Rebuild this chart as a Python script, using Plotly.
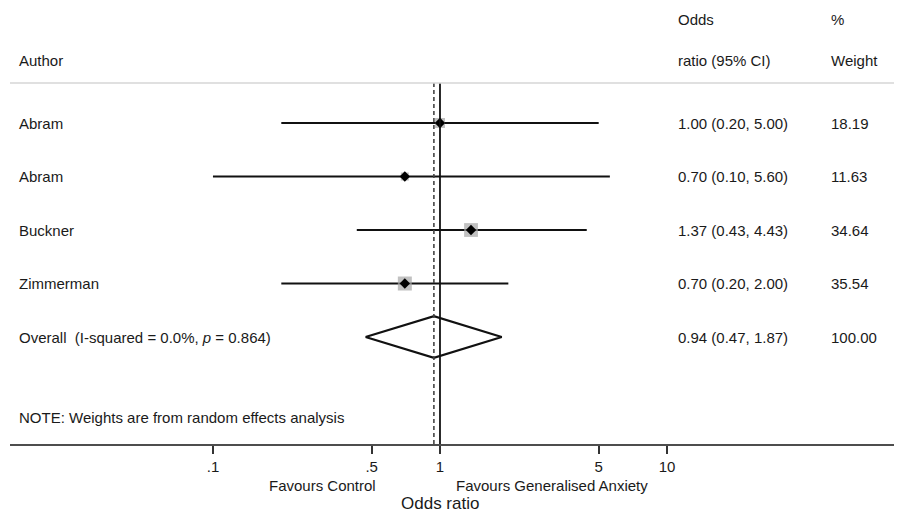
import math
import plotly.graph_objects as go

# ---- data ----
authors = ["Abram", "Abram", "Buckner", "Zimmerman"]
odds = [1.00, 0.70, 1.37, 0.70]
ci_low = [0.20, 0.10, 0.43, 0.20]
ci_high = [5.00, 5.60, 4.43, 2.00]
weights = [18.19, 11.63, 34.64, 35.54]
overall_label = "Overall  (I-squared = 0.0%, <i>p</i> = 0.864)"
overall_or = 0.94
overall_low = 0.47
overall_high = 1.87
overall_weight = 100.00
tick_vals = [0.1, 0.5, 1, 5, 10]
tick_text = [".1", ".5", "1", "5", "10"]
note = "NOTE: Weights are from random effects analysis"
favours_left = "Favours Control"
favours_right = "Favours Generalised Anxiety"
x_title = "Odds ratio"

rows = list(range(1, len(authors) + 1))
overall_row = len(authors) + 1
note_row = overall_row + 1.5

FONT = "Liberation Sans, Arial, sans-serif"
TXT = "#1a1a1a"
FS = 15

fig = go.Figure()

# CI lines
xs, ys = [], []
for r, lo, hi in zip(rows, ci_low, ci_high):
    xs += [lo, hi, None]
    ys += [r, r, None]
fig.add_trace(go.Scatter(x=xs, y=ys, mode="lines",
                         line=dict(color="#111111", width=2.2),
                         hoverinfo="skip", showlegend=False))

# weight squares (area proportional to weight)
max_w = max(weights)
sizes = [14 * math.sqrt(w / max_w) for w in weights]
fig.add_trace(go.Scatter(x=odds, y=rows, mode="markers",
                         marker=dict(symbol="square", size=sizes, color="#a6a6a6",
                                     line=dict(width=0)),
                         showlegend=False))
# point estimates
fig.add_trace(go.Scatter(x=odds, y=rows, mode="markers",
                         marker=dict(symbol="diamond", size=8, color="#000000"),
                         showlegend=False))

# overall diamond
h = 0.39
fig.add_trace(go.Scatter(x=[overall_low, overall_or, overall_high, overall_or, overall_low],
                         y=[overall_row, overall_row - h, overall_row, overall_row + h, overall_row],
                         mode="lines", line=dict(color="#111111", width=2.2),
                         showlegend=False, hoverinfo="skip"))

# reference lines
top_row = 0.25
bottom_row = 7.0
fig.add_shape(type="line", xref="x", yref="y", x0=1, x1=1, y0=top_row, y1=bottom_row,
              line=dict(color="#111111", width=1.8))
fig.add_shape(type="line", xref="x", yref="y", x0=overall_or, x1=overall_or, y0=top_row, y1=bottom_row,
              line=dict(color="#444444", width=1.6, dash="4px,3px"))
# header separator line
fig.add_shape(type="line", xref="paper", yref="y", x0=0, x1=1, y0=top_row, y1=top_row,
              line=dict(color="#d6d6d6", width=1.5))

# text columns
AUTH_X = 0.0079
OR_X = 0.7467
W_X = 0.9182

def txt(x, y, s, size=FS):
    fig.add_annotation(x=x, y=y, xref="paper", yref="y", text=s, showarrow=False,
                       xanchor="left", yanchor="middle",
                       font=dict(family=FONT, size=size, color=TXT))

txt(AUTH_X, -0.16, "Author")
txt(OR_X, -0.94, "Odds")
txt(OR_X, -0.16, "ratio (95% CI)")
txt(W_X, -0.94, "%")
txt(W_X, -0.16, "Weight")

for r, a, o, lo, hi, w in zip(rows, authors, odds, ci_low, ci_high, weights):
    txt(AUTH_X, r, a)
    txt(OR_X, r, f"{o:.2f} ({lo:.2f}, {hi:.2f})")
    txt(W_X, r, f"{w:.2f}")

txt(AUTH_X, overall_row, overall_label)
txt(OR_X, overall_row, f"{overall_or:.2f} ({overall_low:.2f}, {overall_high:.2f})")
txt(W_X, overall_row, f"{overall_weight:.2f}")
txt(AUTH_X, note_row, note)

# below-axis labels
fig.add_annotation(x=math.log10(0.303), y=0, xref="x", yref="paper", yshift=-41,
                   text=favours_left, showarrow=False, xanchor="center", yanchor="middle",
                   font=dict(family=FONT, size=FS, color=TXT))
fig.add_annotation(x=math.log10(3.11), y=0, xref="x", yref="paper", yshift=-41,
                   text=favours_right, showarrow=False, xanchor="center", yanchor="middle",
                   font=dict(family=FONT, size=FS, color=TXT))
fig.add_annotation(x=0.0, y=0, xref="x", yref="paper", yshift=-70, borderpad=0,
                   text=x_title, showarrow=False, xanchor="center", yanchor="bottom",
                   font=dict(family=FONT, size=17, color=TXT))

fig.update_xaxes(type="log", range=[-1.894, 2.035], tickvals=tick_vals, ticktext=tick_text,
                 showgrid=False, zeroline=False, showline=True, linecolor="#4d4d4d", linewidth=2,
                 ticks="outside", ticklen=8, tickwidth=1.5, tickcolor="#333333",
                 tickfont=dict(family=FONT, size=FS, color=TXT))
fig.update_yaxes(range=[7.0, -1.15], visible=False, showgrid=False, zeroline=False)

fig.update_layout(width=894, height=506, margin=dict(l=2, r=0, t=0, b=70),
                  plot_bgcolor="white", paper_bgcolor="white", showlegend=False)

fig.write_html("out.html")
